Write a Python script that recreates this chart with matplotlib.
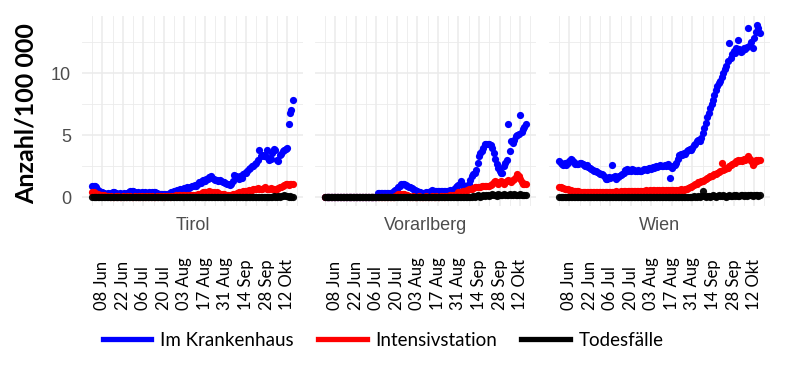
import numpy as np
import pandas as pd
import matplotlib
matplotlib.use("Agg")
import matplotlib.pyplot as plt
import matplotlib.dates as mdates
from matplotlib.lines import Line2D
from matplotlib.ticker import MultipleLocator

# ---------------- data ----------------
start_date = "2020-06-01"
regions = ["Tirol", "Vorarlberg", "Wien"]
series_names = ["Im Krankenhaus", "Intensivstation", "Todesfälle"]
series_colors = ["#0000FF", "#FF0000", "#000000"]
tick_dates = ["2020-06-08", "2020-06-22", "2020-07-06", "2020-07-20", "2020-08-03",
              "2020-08-17", "2020-08-31", "2020-09-14", "2020-09-28", "2020-10-12"]
tick_labels = ["08 Jun", "22 Jun", "06 Jul", "20 Jul", "03 Aug",
               "17 Aug", "31 Aug", "14 Sep", "28 Sep", "12 Okt"]

tirol_hosp = [0.95, 0.95, 0.9, 0.8, 0.6, 0.5, 0.4, 0.4, 0.35, 0.3, 0.3, 0.35, 0.3, 0.35, 0.45, 0.4,
              0.35, 0.3, 0.3, 0.35, 0.3, 0.3, 0.35, 0.3, 0.35,
              0.45, 0.55, 0.55, 0.5, 0.4,
              0.35, 0.4, 0.35, 0.35, 0.4, 0.35, 0.4, 0.35, 0.35, 0.4, 0.35,
              0.4, 0.45, 0.4, 0.35,
              0.3, 0.25, 0.3, 0.25, 0.3, 0.3, 0.25, 0.3,
              0.35, 0.4, 0.45, 0.5,
              0.55, 0.6, 0.6, 0.65, 0.6, 0.7, 0.75, 0.7,
              0.8, 0.75, 0.85, 0.95, 0.9, 1.0,
              0.95, 1.1, 1.2, 1.15, 1.3, 1.4, 1.35, 1.5,
              1.45, 1.6, 1.7, 1.55, 1.45, 1.4, 1.4,
              1.35, 1.4, 1.3, 1.25, 1.2, 1.15, 1.1,
              1.05, 1.0, 1.1, 1.3, 1.8, 1.7, 1.6, 1.5,
              1.7, 1.55, 1.9, 2.0, 2.0, 2.1, 2.3,
              2.4, 2.5, 2.5, 2.7, 2.8, 3.0, 3.85,
              3.3, 3.4, 3.3, 3.4, 3.85, 3.2, 3.0,
              3.1, 3.6, 3.9, 3.8, 3.0, 2.9,
              3.4, 3.5, 3.7, 3.8, 3.9, 4.0,
              5.9, 6.8, 7.0, 7.8]
tirol_icu = [0.45, 0.4, 0.35, 0.3, 0.25, 0.2, 0.2, 0.15, 0.15, 0.1, 0.1,
             0.1, 0.05, 0.1, 0.05, 0.05, 0.1, 0.05, 0.1, 0.05, 0.05,
             0.1, 0.05, 0.05, 0.1, 0.05, 0.1, 0.05, 0.05, 0.1, 0.05,
             0.05, 0.1, 0.05, 0.1, 0.05, 0.05, 0.1, 0.05, 0.1, 0.05,
             0.1, 0.05, 0.05, 0.1, 0.05, 0.1, 0.1, 0.05, 0.1, 0.05,
             0.1, 0.1, 0.05, 0.1, 0.1,
             0.1, 0.15, 0.1, 0.15, 0.15, 0.1, 0.15, 0.15, 0.1, 0.15, 0.15, 0.2, 0.15, 0.2, 0.2,
             0.2, 0.25, 0.3, 0.3, 0.35,
             0.4, 0.45, 0.4, 0.45, 0.5, 0.45, 0.4, 0.4, 0.35, 0.4, 0.35, 0.3, 0.3, 0.25, 0.25,
             0.2, 0.2, 0.15, 0.2, 0.2, 0.25, 0.3, 0.3, 0.35, 0.4,
             0.4, 0.45, 0.5, 0.5, 0.5, 0.55, 0.6, 0.55, 0.6, 0.65, 0.7, 0.7,
             0.75, 0.7, 0.65, 0.7, 0.75, 0.8, 0.7, 0.65, 0.7, 0.75, 0.7, 0.65, 0.6, 0.7, 0.75, 0.8, 0.85, 0.9,
             1.0, 1.05, 1.1, 1.0, 1.1, 1.05, 1.1]
tirol_deaths = [0.0, 0.0, 0.0, 0.0, 0.0, 0.0, 0.0, 0.0, 0.0, 0.0,
                0.0, 0.0, 0.0, 0.0, 0.0, 0.0, 0.0, 0.0, 0.0, 0.0,
                0.0, 0.0, 0.0, 0.0, 0.0, 0.0, 0.0, 0.0, 0.0, 0.0,
                0.0, 0.0, 0.0, 0.0, 0.0, 0.0, 0.0, 0.0, 0.0, 0.0,
                0.0, 0.0, 0.0, 0.0, 0.0, 0.0, 0.0, 0.0, 0.0, 0.0,
                0.0, 0.0, 0.0, 0.0, 0.0, 0.0, 0.0, 0.0, 0.0, 0.0,
                0.0, 0.0, 0.0, 0.0, 0.0, 0.0, 0.0, 0.0, 0.0, 0.0,
                0.0, 0.0, 0.0, 0.0, 0.0, 0.0, 0.0, 0.0, 0.0, 0.0,
                0.0, 0.0, 0.0, 0.0, 0.0, 0.0, 0.0, 0.0, 0.0, 0.0,
                0.0, 0.0, 0.0, 0.0, 0.0, 0.0, 0.0, 0.0, 0.0, 0.0,
                0.05, 0.0, 0.05, 0.0, 0.05, 0.05, 0.0, 0.05, 0.05, 0.0,
                0.05, 0.05, 0.0, 0.05, 0.05, 0.05, 0.0, 0.05, 0.05, 0.05,
                0.05, 0.0, 0.05, 0.05, 0.1, 0.05, 0.05, 0.1, 0.05, 0.1,
                0.1, 0.15, 0.1, 0.1, 0.05, 0.1, 0.05, 0.05]

vbg_hosp = [0.0, 0.0, 0.0, 0.0, 0.0, 0.0, 0.0, 0.0, 0.0, 0.0,
            0.0, 0.0, 0.0, 0.0, 0.0, 0.0, 0.0, 0.0, 0.0, 0.0,
            0.0, 0.0, 0.0, 0.0, 0.0, 0.0, 0.0, 0.0, 0.0, 0.0,
            0.0, 0.0, 0.0, 0.0, 0.0, 0.0,
            0.35, 0.35, 0.35, 0.35, 0.35, 0.35, 0.35, 0.35, 0.35, 0.35, 0.45, 0.5,
            0.6, 0.7, 0.85, 0.95, 1.05, 1.05, 1.1, 1.0, 0.95,
            0.85, 0.8, 0.75, 0.7, 0.6, 0.55, 0.5, 0.45,
            0.4, 0.35, 0.35, 0.35, 0.4, 0.4, 0.45, 0.55,
            0.6, 0.55, 0.5, 0.5, 0.55, 0.55, 0.55, 0.5, 0.55, 0.55, 0.55, 0.55, 0.6, 0.55, 0.6, 0.7,
            0.8, 0.9, 1.0, 1.1, 1.3, 1.0, 0.85, 0.85, 0.9, 1.1, 1.4,
            1.7, 1.9, 2.0, 2.2, 2.8, 3.3, 3.6, 3.7, 4.0, 4.3, 4.3, 4.3, 4.3, 4.2,
            4.0, 3.6, 3.1, 2.7, 2.4, 2.1, 2.0, 2.0, 2.5, 2.8, 3.0,
            5.9, 3.7, 4.5, 4.4, 4.6, 4.9, 5.0, 5.1, 6.6, 5.3, 5.5, 5.7, 5.9]
vbg_icu = [0.0, 0.0, 0.0, 0.0, 0.0, 0.0, 0.0, 0.0, 0.0, 0.0,
           0.0, 0.0, 0.0, 0.0, 0.0, 0.0, 0.0, 0.0, 0.0, 0.0,
           0.0, 0.0, 0.0, 0.0, 0.0, 0.0, 0.0, 0.0, 0.0, 0.0,
           0.0, 0.0, 0.0, 0.0, 0.0, 0.0, 0.0, 0.0, 0.0, 0.0,
           0.0, 0.0, 0.0, 0.0, 0.0, 0.0, 0.0, 0.0,
           0.1, 0.2, 0.25, 0.3, 0.3, 0.3, 0.25, 0.2, 0.15, 0.1,
           0.05, 0.05, 0.1, 0.05, 0.05, 0.05, 0.1, 0.05, 0.05, 0.05,
           0.05, 0.1, 0.05, 0.05, 0.05, 0.1, 0.05, 0.05, 0.1, 0.05,
           0.05, 0.1, 0.1, 0.05, 0.1, 0.1, 0.1, 0.15, 0.1, 0.15, 0.15,
           0.2, 0.3, 0.4, 0.4, 0.45, 0.5, 0.5, 0.55, 0.6, 0.65, 0.7, 0.7,
           0.75, 0.8, 0.8, 0.85, 0.8, 0.85, 0.9, 0.9, 0.95, 0.95, 0.9, 0.95, 1.0, 1.1,
           1.2, 1.3, 1.2, 1.1, 1.2, 1.3, 1.2, 1.1, 1.2, 1.3, 1.4, 1.3, 1.2, 1.4, 1.5, 1.6,
           1.9, 1.7, 1.5, 1.2, 1.1, 1.05, 1.1]
vbg_deaths = [0.0, 0.0, 0.0, 0.0, 0.0, 0.0, 0.0, 0.0, 0.0, 0.0,
              0.0, 0.0, 0.0, 0.0, 0.0, 0.0, 0.0, 0.0, 0.0, 0.0,
              0.0, 0.0, 0.0, 0.0, 0.0, 0.0, 0.0, 0.0, 0.0, 0.0,
              0.0, 0.0, 0.0, 0.0, 0.0, 0.0, 0.0, 0.0, 0.0, 0.0,
              0.0, 0.0, 0.0, 0.0, 0.0, 0.0, 0.0, 0.0, 0.0, 0.0,
              0.0, 0.0, 0.0, 0.0, 0.0, 0.0, 0.0, 0.0, 0.0, 0.0,
              0.0, 0.0, 0.0, 0.0, 0.0, 0.0, 0.0, 0.0, 0.0, 0.0,
              0.0, 0.0, 0.0, 0.0, 0.0, 0.0, 0.0, 0.0, 0.0, 0.0,
              0.0, 0.0, 0.0, 0.0, 0.0, 0.0, 0.0, 0.0, 0.0, 0.0,
              0.0, 0.0, 0.0, 0.0, 0.0, 0.0, 0.0, 0.0, 0.0, 0.0,
              0.05, 0.1, 0.05, 0.1, 0.15, 0.1, 0.05, 0.1, 0.15, 0.1,
              0.2, 0.15, 0.1, 0.2, 0.25, 0.15, 0.2, 0.1, 0.25, 0.2,
              0.15, 0.2, 0.25, 0.2, 0.15, 0.2, 0.25, 0.2, 0.15, 0.25,
              0.2, 0.2, 0.15, 0.25, 0.2, 0.15, 0.2, 0.15]

wien_hosp = [2.9, 2.8, 2.7, 2.6, 2.75, 2.6, 2.8, 2.9,
             3.1, 3.0, 2.85, 2.7, 2.65,
             2.7, 2.8, 2.75, 2.7, 2.6, 2.5, 2.6, 2.45,
             2.4, 2.3, 2.2, 2.15, 2.1, 2.05, 2.0, 1.9, 1.85, 1.8,
             1.65, 1.5, 1.45, 1.6, 1.55, 2.6,
             1.6, 1.7, 1.5, 1.65, 1.7, 1.8, 1.9, 2.0,
             2.2, 2.25, 2.15, 2.2, 2.1, 2.3, 2.2, 2.15, 2.1, 2.2, 2.15, 2.1, 2.2,
             2.25, 2.3, 2.2, 2.35, 2.4, 2.3, 2.45, 2.4, 2.5, 2.45,
             2.55, 2.6, 2.5, 2.55, 2.6, 2.5, 2.65, 2.55,
             1.55, 2.4,
             2.5, 2.6, 2.8, 3.1, 3.4, 3.5, 3.4, 3.6, 3.5, 3.7,
             3.8, 3.9, 3.85, 4.0, 4.2, 4.3, 4.5, 4.6, 4.55, 4.8, 5.2, 5.6,
             6.0, 6.5, 6.8, 7.2, 7.5, 7.8, 8.2, 8.6, 9.0, 9.2, 9.4, 9.7, 10.0, 10.3, 10.6, 11.0,
             12.4, 11.2,
             11.5, 11.8, 11.6, 12.0, 12.7, 11.9, 11.7, 11.8, 12.0, 11.9, 12.1,
             13.6,
             12.3, 12.5, 12.0, 12.8, 13.3, 13.9, 13.6, 13.2]
wien_icu = [0.85, 0.8, 0.75, 0.75, 0.7, 0.65,
            0.65, 0.6, 0.6, 0.55, 0.55, 0.5, 0.5, 0.5, 0.45,
            0.45, 0.45, 0.4, 0.45, 0.45, 0.4, 0.45, 0.4, 0.4, 0.45, 0.4, 0.45,
            0.4, 0.4, 0.45, 0.4, 0.45, 0.45, 0.4, 0.45, 0.45, 0.4, 0.45, 0.45,
            0.5, 0.45, 0.45, 0.5, 0.45, 0.5, 0.5, 0.45, 0.5, 0.5, 0.5, 0.5,
            0.5, 0.55, 0.5, 0.55, 0.55, 0.5, 0.55, 0.55, 0.6, 0.55, 0.55, 0.6, 0.55, 0.6,
            0.6, 0.55, 0.6, 0.6, 0.55, 0.6, 0.6, 0.55, 0.6, 0.6, 0.55, 0.6, 0.6, 0.6,
            0.55, 0.6, 0.6, 0.6, 0.65, 0.6, 0.6,
            0.65, 0.7, 0.75, 0.8, 0.85, 0.9, 1.0, 1.05, 1.1, 1.2,
            1.25, 1.3, 1.35, 1.4, 1.5, 1.55, 1.6, 1.7, 1.75, 1.8,
            1.85, 1.9, 2.0, 2.05, 2.1, 2.75, 2.2, 2.3, 2.35, 2.4,
            2.5, 2.6, 2.7, 2.75, 2.8, 2.9, 3.0, 2.95, 3.0, 2.9,
            3.1, 3.0, 3.2, 3.35, 3.1, 2.9, 2.6, 2.8, 3.0, 2.9, 3.0, 3.0]
wien_deaths = [0.05, 0.0, 0.05, 0.05, 0.0, 0.05, 0.0, 0.05, 0.05, 0.0,
               0.05, 0.0, 0.0, 0.05, 0.0, 0.05, 0.0, 0.0, 0.05, 0.0,
               0.0, 0.05, 0.0, 0.0, 0.05, 0.0, 0.0, 0.05, 0.0, 0.0,
               0.05, 0.0, 0.0, 0.0, 0.05, 0.0, 0.0, 0.05, 0.0, 0.0,
               0.0, 0.05, 0.0, 0.0, 0.05, 0.0, 0.0, 0.0, 0.05, 0.0,
               0.0, 0.05, 0.0, 0.0, 0.0, 0.05, 0.0, 0.0, 0.05, 0.0,
               0.0, 0.0, 0.05, 0.0, 0.0, 0.05, 0.0, 0.0, 0.0, 0.05,
               0.0, 0.0, 0.05, 0.0, 0.05, 0.0, 0.0, 0.05, 0.0, 0.05,
               0.0, 0.05, 0.0, 0.05, 0.05, 0.0, 0.05, 0.05, 0.0, 0.05,
               0.05, 0.05, 0.1, 0.05, 0.05, 0.1, 0.05, 0.1, 0.55, 0.1,
               0.05, 0.1, 0.1, 0.05, 0.1, 0.15, 0.1, 0.05, 0.1, 0.15,
               0.1, 0.1, 0.15, 0.1, 0.05, 0.1, 0.15, 0.1, 0.1, 0.15,
               0.1, 0.15, 0.1, 0.1, 0.15, 0.2, 0.1, 0.15, 0.1, 0.15,
               0.2, 0.15, 0.1, 0.15, 0.2, 0.15, 0.1, 0.15]

panel_data = {
    "Tirol": [tirol_hosp, tirol_icu, tirol_deaths],
    "Vorarlberg": [vbg_hosp, vbg_icu, vbg_deaths],
    "Wien": [wien_hosp, wien_icu, wien_deaths],
}

# ---------------- figure ----------------
W, H = 789, 366
fig = plt.figure(figsize=(W / 100, H / 100), dpi=100)
fig.patch.set_facecolor("white")

panel_left_px = [82, 315, 549]
panel_w_px = 221
panel_top_px, panel_bottom_px = 16, 206

t0 = pd.Timestamp(start_date)
all_vals = [v for r in regions for s in panel_data[r] for v in s]
ymax = max(all_vals)
ymin = min(all_vals)
yr = ymax - ymin
max_len = max(len(s) for r in regions for s in panel_data[r])
d_start = mdates.date2num(t0)
d_end = mdates.date2num(t0 + pd.Timedelta(days=max_len - 1))
dr = d_end - d_start

tick_nums = [mdates.date2num(pd.Timestamp(t)) for t in tick_dates]
grid_col = "#EBEBEB"

for i, reg in enumerate(regions):
    ax = fig.add_axes([panel_left_px[i] / W, 1 - panel_bottom_px / H,
                       panel_w_px / W, (panel_bottom_px - panel_top_px) / H])
    for spine in ax.spines.values():
        spine.set_visible(False)
    ax.set_facecolor("white")
    for s_vals, col, nm in zip(panel_data[reg], series_colors, series_names):
        dates = pd.date_range(t0, periods=len(s_vals), freq="D")
        ax.plot(dates, s_vals, linestyle="none", marker="o", markersize=5.2,
                markeredgewidth=0, color=col, alpha=0.95 if col == "#000000" else 1.0,
                zorder=3)
    ax.set_xlim(d_start - 0.05 * dr, d_end + 0.05 * dr)
    ax.set_ylim(ymin - 0.05 * yr, ymax + 0.05 * yr)

    ax.xaxis.set_minor_locator(mdates.WeekdayLocator(byweekday=mdates.MO))
    ax.set_xticks(tick_nums)
    ax.set_xticklabels(tick_labels, rotation=90, va="bottom", ha="center",
                       fontfamily="Lato", fontsize=12, color="black")
    ax.tick_params(axis="x", which="both", length=0, pad=75)
    ax.yaxis.set_major_locator(MultipleLocator(5))
    ax.yaxis.set_minor_locator(MultipleLocator(2.5))
    ax.tick_params(axis="y", which="both", length=0, pad=8,
                   labelsize=13, labelcolor="#4D4D4D")
    for lbl in ax.get_yticklabels():
        lbl.set_fontfamily("Liberation Sans")
    if i > 0:
        ax.tick_params(axis="y", labelleft=False)
    ax.grid(which="major", color=grid_col, linewidth=1.1, zorder=0)
    ax.grid(which="minor", color=grid_col, linewidth=0.6, zorder=0)
    ax.set_axisbelow(True)

    ax.annotate(reg, xy=(0.5, 0), xycoords="axes fraction", xytext=(0, -14),
                textcoords="offset points", ha="center", va="center",
                fontsize=13, color="#4D4D4D", fontfamily="Liberation Sans")

fig.text(26 / W, 1 - 114 / H, "Anzahl/100 000", rotation=90, ha="center", va="center",
         fontsize=18, fontweight="bold", fontfamily="Lato", color="black")

handles = [Line2D([], [], color=c, linewidth=3.8) for c in series_colors]
fig.legend(handles, series_names, loc="center", bbox_to_anchor=(383 / W, 1 - 340 / H),
           ncol=3, frameon=False, handlelength=2.6, handletextpad=0.45,
           columnspacing=1.3, prop={"family": "Lato", "size": 13.5})

fig.savefig("out.png", dpi=100, facecolor="white")
